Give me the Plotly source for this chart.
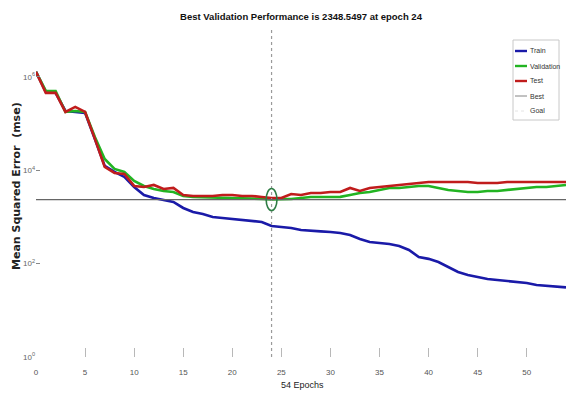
import numpy as np
import plotly.graph_objects as go

epochs = list(range(55))

train = [1.27e6, 4.73e5, 4.50e5, 1.85e5, 1.76e5, 1.68e5, 4.66e4, 1.23e4, 9150, 7150,
         4370, 2940, 2540, 2300, 2080, 1550, 1270, 1150, 995, 948,
         902, 859, 817, 778, 638, 608, 578, 524, 499, 490,
         475, 452, 410, 336, 290, 276, 263, 238, 196, 138,
         126, 108, 84.6, 66.1, 57.0, 51.6, 46.8, 44.5, 42.4, 40.4,
         38.4, 34.8, 33.1, 31.5, 31.0]

validation = [1.27e6, 4.96e5, 4.96e5, 1.76e5, 1.85e5, 1.76e5, 5.1e4, 1.74e4, 1.06e4, 9150,
              5870, 4590, 3960, 3590, 3410, 2800, 2670, 2650, 2540, 2520,
              2500, 2480, 2460, 2420, 2348.5497, 2400, 2410, 2540, 2670, 2660,
              2670, 2680, 2940, 3250, 3410, 3770, 4160, 4160, 4370, 4590,
              4590, 4160, 3770, 3590, 3410, 3410, 3590, 3590, 3770, 3960,
              4160, 4370, 4370, 4590, 4820]

test = [1.27e6, 4.50e5, 4.50e5, 1.76e5, 2.26e5, 1.76e5, 4.66e4, 1.17e4, 8710, 8290,
        4590, 4370, 4820, 3960, 4160, 2940, 2800, 2800, 2800, 2940,
        2940, 2800, 2800, 2670, 2540, 2540, 3090, 2940, 3250, 3250,
        3410, 3410, 4160, 3590, 4160, 4370, 4590, 4820, 5060, 5320,
        5590, 5590, 5590, 5590, 5590, 5320, 5320, 5320, 5590, 5590,
        5590, 5590, 5590, 5590, 5590]

goal = 0
y_range_log = [0, 7]
x_ticks = [0, 5, 10, 15, 20, 25, 30, 35, 40, 45, 50]
y_tickvals = [1, 1e2, 1e4, 1e6]
y_ticktext = ["10<sup>0</sup>", "10<sup>2</sup>", "10<sup>4</sup>", "10<sup>6</sup>"]
legend_names = ["Train", "Validation", "Test", "Best", "Goal"]

best_epoch = int(np.argmin(validation))
best_val = validation[best_epoch]
n_epochs = epochs[-1]

C_TRAIN, C_VAL, C_TEST = "#1a1aa8", "#22b422", "#c01c1c"
C_BEST, C_GOAL = "#666666", "#dddddd"
NARROW = "Liberation Sans Narrow, Arial Narrow, Liberation Sans, sans-serif"

W, H = 567, 394
ML, MR, MT, MB = 36, 1, 30, 37
PW, PH = W - ML - MR, H - MT - MB


def px(xp):
    return (xp - ML) / PW


def py(yp):
    return (H - MB - yp) / PH


fig = go.Figure()
fig.add_trace(go.Scatter(x=epochs, y=train, mode="lines", name="Train",
                         line=dict(color=C_TRAIN, width=2.6)))
fig.add_trace(go.Scatter(x=epochs, y=validation, mode="lines", name="Validation",
                         line=dict(color=C_VAL, width=2.6)))
fig.add_trace(go.Scatter(x=epochs, y=test, mode="lines", name="Test",
                         line=dict(color=C_TEST, width=2.6)))
# Best: vertical dotted marker at best epoch + horizontal line at best value
fig.add_trace(go.Scatter(x=[best_epoch, best_epoch],
                         y=[10 ** y_range_log[0], 10 ** y_range_log[1]],
                         mode="lines", name="Best", line=dict(color="#9a9a9a", width=1.2, dash="dot")))
fig.add_trace(go.Scatter(x=[0, n_epochs], y=[best_val, best_val],
                         mode="lines", name="Best", line=dict(color=C_BEST, width=1.2)))
fig.add_trace(go.Scatter(x=[0, n_epochs], y=[goal, goal], mode="lines", name="Goal",
                         line=dict(color=C_GOAL, width=1, dash="dot")))

# ellipse around the best validation point (half-width 0.55 epoch, half-height 0.235 decade)
fig.add_shape(type="circle", xref="x", yref="y",
              x0=best_epoch - 0.55, x1=best_epoch + 0.55,
              y0=best_val / 10 ** 0.235, y1=best_val * 10 ** 0.235,
              line=dict(color="#2f7d45", width=1.6))

# manual compact legend (MATLAB style)
fig.add_shape(type="rect", xref="paper", yref="paper",
              x0=px(513), x1=px(559), y0=py(120), y1=py(40),
              line=dict(color="#c8c8c8", width=1), fillcolor="white", layer="above")
leg_styles = [dict(color=C_TRAIN, width=2.4), dict(color=C_VAL, width=2.4),
              dict(color=C_TEST, width=2.4), dict(color=C_BEST, width=0.8),
              dict(color=C_GOAL, width=0.8, dash="dot")]
for i, (name, st) in enumerate(zip(legend_names, leg_styles)):
    yy = 51 + 15 * i
    fig.add_shape(type="line", xref="paper", yref="paper", x0=px(515), x1=px(527),
                  y0=py(yy), y1=py(yy), line=st, layer="above")
    fig.add_annotation(text=name, xref="paper", yref="paper", x=px(528), y=py(yy),
                       xanchor="left", yanchor="middle", showarrow=False,
                       font=dict(family=NARROW, size=7, color="#333"))

fig.update_layout(
    width=W, height=H,
    margin=dict(l=ML, r=MR, t=MT, b=MB),
    paper_bgcolor="white", plot_bgcolor="white",
    showlegend=False,
    title=dict(text="<b>Best Validation Performance is 2348.5497 at epoch 24</b>",
               x=px(301), xanchor="center", xref="paper", y=1 - 17 / H, yanchor="middle",
               font=dict(family=NARROW, size=9.5, color="#111")),
)

fig.update_xaxes(range=[0, n_epochs], tickvals=x_ticks, showgrid=False, zeroline=False,
                 showline=False, ticks="inside", ticklen=9, tickcolor="#b8b8b8", tickwidth=1,
                 ticklabelstandoff=9,
                 tickfont=dict(family=NARROW, size=8, color="#555"))
fig.update_yaxes(type="log", range=y_range_log, tickvals=y_tickvals, ticktext=y_ticktext,
                 showgrid=False, zeroline=False, showline=False, ticks="inside", ticklen=4,
                 tickcolor="#888", tickwidth=1,
                 tickfont=dict(family=NARROW, size=8, color="#666"))

fig.add_annotation(text="54 Epochs", xref="paper", yref="paper", x=px(302), y=0, yshift=-28,
                   xanchor="center", yanchor="middle", showarrow=False,
                   font=dict(family=NARROW, size=9, color="#222"))
fig.add_annotation(text="<b>Mean Squared Error  (mse)</b>", xref="paper", yref="paper",
                   x=0, xshift=-20, y=py(186), textangle=-90, xanchor="center", yanchor="middle",
                   showarrow=False,
                   font=dict(family="DejaVu Sans", size=11, color="#222"))

fig.write_html("out.html")
